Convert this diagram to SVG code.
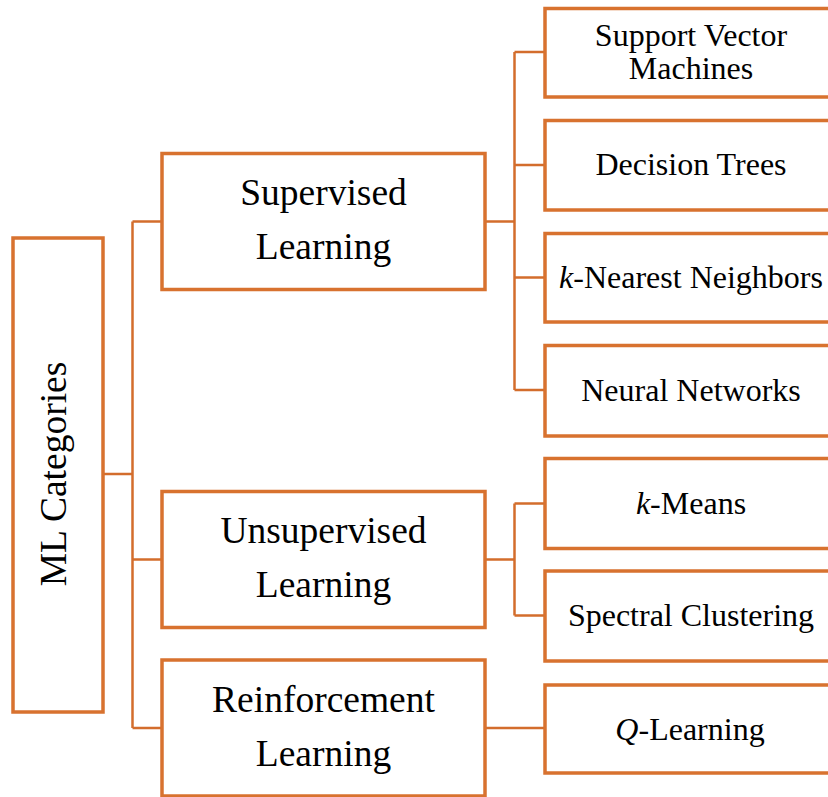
<svg xmlns="http://www.w3.org/2000/svg" width="828" height="797" viewBox="0 0 828 797">
<style>
.box{fill:#fff;stroke:#D8722F;stroke-width:3.5}
.con{fill:none;stroke:#D36D2C;stroke-width:2.5}
text{font-family:"Liberation Serif","Times New Roman",serif;fill:#000;text-anchor:middle}
.mid{font-size:37.5px}
.leaf{font-size:32px}
.it{font-style:italic}
</style>
<rect width="828" height="797" fill="#fff"/>
<g id="connectors">
<path class="con" d="M103,474H132.5M132.5,221.5V728M132.5,221.5H162M132.5,559.5H162M132.5,728H162"/>
<path class="con" d="M485,221.5H514.5M514.5,52V390M514.5,52H545M514.5,165H545M514.5,277.5H545M514.5,390H545"/>
<path class="con" d="M485,559.5H514.5M514.5,503.5V615.5M514.5,503.5H545M514.5,615.5H545"/>
<path class="con" d="M485,728H545"/>
</g>
<g id="root">
<rect class="box" x="13" y="238" width="90" height="474"/>
<text class="mid" transform="translate(66,474) rotate(-90)" x="0" y="0">ML Categories</text>
</g>
<g id="supervised">
<rect class="box" x="162" y="153.5" width="323" height="136"/>
<text class="mid" x="323.5" y="205">Supervised</text>
<text class="mid" x="323.5" y="259">Learning</text>
</g>
<g id="unsupervised">
<rect class="box" x="162" y="491.5" width="323" height="136"/>
<text class="mid" x="323.5" y="543">Unsupervised</text>
<text class="mid" x="323.5" y="597">Learning</text>
</g>
<g id="reinforcement">
<rect class="box" x="162" y="660" width="323" height="136"/>
<text class="mid" x="323.5" y="711.5">Reinforcement</text>
<text class="mid" x="323.5" y="765.5">Learning</text>
</g>
<g id="svm">
<rect class="box" x="545" y="8.5" width="300" height="88.5"/>
<text class="leaf" x="691" y="46">Support Vector</text>
<text class="leaf" x="691" y="79">Machines</text>
</g>
<g id="dt">
<rect class="box" x="545" y="120.5" width="300" height="89.5"/>
<text class="leaf" x="691" y="175">Decision Trees</text>
</g>
<g id="knn">
<rect class="box" x="545" y="233.5" width="300" height="88.5"/>
<text class="leaf" x="691" y="288"><tspan class="it">k</tspan>-Nearest Neighbors</text>
</g>
<g id="nn">
<rect class="box" x="545" y="345.5" width="300" height="90.5"/>
<text class="leaf" x="691" y="400.5">Neural Networks</text>
</g>
<g id="kmeans">
<rect class="box" x="545" y="458.5" width="300" height="90"/>
<text class="leaf" x="691" y="513.5"><tspan class="it">k</tspan>-Means</text>
</g>
<g id="spectral">
<rect class="box" x="545" y="571" width="300" height="90"/>
<text class="leaf" x="691" y="626">Spectral Clustering</text>
</g>
<g id="qlearning">
<rect class="box" x="545" y="685" width="300" height="88"/>
<text class="leaf" x="690" y="739.5"><tspan class="it">Q</tspan>-Learning</text>
</g>
</svg>
